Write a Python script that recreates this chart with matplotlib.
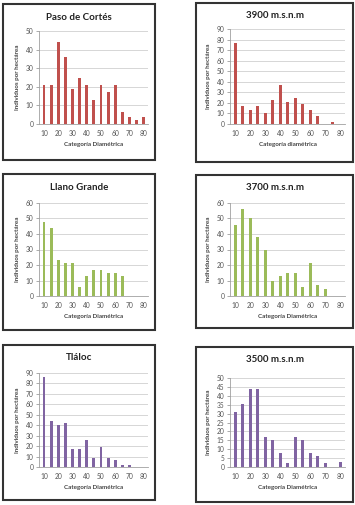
import numpy as np
import matplotlib.pyplot as plt
from matplotlib.patches import Rectangle

# diameter classes (cm)
categorias = [10, 15, 20, 25, 30, 35, 40, 45, 50, 55, 60, 65, 70, 75, 80]

paso_cortes = [21, 21, 44, 36, 19, 25, 21, 13, 21, 17, 21, 6.5, 4, 2, 4]
alt_3900 = [77, 17, 13, 17, 10, 23, 37, 21, 25, 19, 13, 8, 0, 1.5, 0]
llano_grande = [48, 44, 23, 21, 21, 6, 13, 17, 17, 15, 15, 13, 0, 0, 0]
alt_3700 = [46, 56, 50, 38, 30, 10, 13, 15, 15, 6, 21, 7, 4.5, 0, 0]
tlaloc = [86, 44, 40, 42, 17, 17, 26, 9, 19, 9, 7, 2, 2, 0, 0]
alt_3500 = [31, 35.5, 44, 44, 17, 15, 8, 2, 17, 15, 8, 6, 2, 0, 3]

W, H = 355, 505
RED = '#c0504d'
GREEN = '#9bbb59'
PURPLE = '#8064a2'

plt.rcParams['font.family'] = ['Lato', 'DejaVu Sans']

fig = plt.figure(figsize=(W / 100, H / 100), dpi=100)


def frac(l, t, r, b):
    return [l / W, 1 - b / H, (r - l) / W, (b - t) / H]


def box(l, t, r, b):
    fig.patches.append(Rectangle((l / W, 1 - b / H), (r - l) / W, (b - t) / H,
                                 transform=fig.transFigure, fill=False,
                                 edgecolor='#333333', linewidth=1.5))


panels = [
    # title, values, color, ymax, ystep, axes px, box px, xlabel
    ('Paso de Cortés', paso_cortes, RED, 50, 10, (39, 31, 148, 124), (3, 4, 155, 160), 'Categoría Diamétrica'),
    ('3900 m.s.n.m', alt_3900, RED, 90, 10, (230, 29, 345, 124), (196, 3, 353, 162), 'Categoría diamétrica'),
    ('Llano Grande', llano_grande, GREEN, 60, 10, (39, 203, 148, 296), (3, 174, 155, 330), 'Categoría Diamétrica'),
    ('3700 m.s.n.m', alt_3700, GREEN, 60, 10, (230, 203, 345, 296), (196, 175, 353, 328), 'Categoría Diamétrica'),
    ('Tláloc', tlaloc, PURPLE, 90, 10, (39, 373, 148, 467), (3, 345, 155, 500), 'Categoría Diamétrica'),
    ('3500 m.s.n.m', alt_3500, PURPLE, 50, 5, (230, 378, 345, 467), (196, 347, 353, 502), 'Categoría Diamétrica'),
]

for title, vals, col, ymax, ystep, ax_px, box_px, xlab in panels:
    box(*box_px)
    ax = fig.add_axes(frac(*ax_px))
    ax.bar(categorias, vals, width=2.0, color=col, zorder=3)
    ax.set_xlim(6.5, 83)
    ax.set_ylim(0, ymax)
    ax.set_yticks(np.arange(0, ymax + 1, ystep))
    ax.set_xticks(categorias[::2])
    ax.yaxis.grid(True, color='#d0d0d0', linewidth=0.6, zorder=0)
    for s in ['top', 'right']:
        ax.spines[s].set_visible(False)
    for s in ['left', 'bottom']:
        ax.spines[s].set_color('#a0a0a0')
        ax.spines[s].set_linewidth(0.6)
    ax.tick_params(axis='both', labelsize=4.8, colors='#888888', length=2, width=0.5,
                   pad=2, labelcolor='#555555')
    ax.tick_params(axis='x', length=0, pad=4)
    ax.set_ylabel('Individuos por hectárea', fontsize=4.5, fontweight='bold',
                  color='#444444', labelpad=4)
    ax.set_xlabel(xlab, fontsize=4.5, fontweight='bold', color='#444444', labelpad=4)
    bl, bt, br, bb = box_px
    fig.text((bl + br) / 2 / W, 1 - (bt + 13) / H, title, ha='center', va='center',
             fontsize=7, fontweight='bold', color='#222222')

fig.savefig('out.png', dpi=100)
